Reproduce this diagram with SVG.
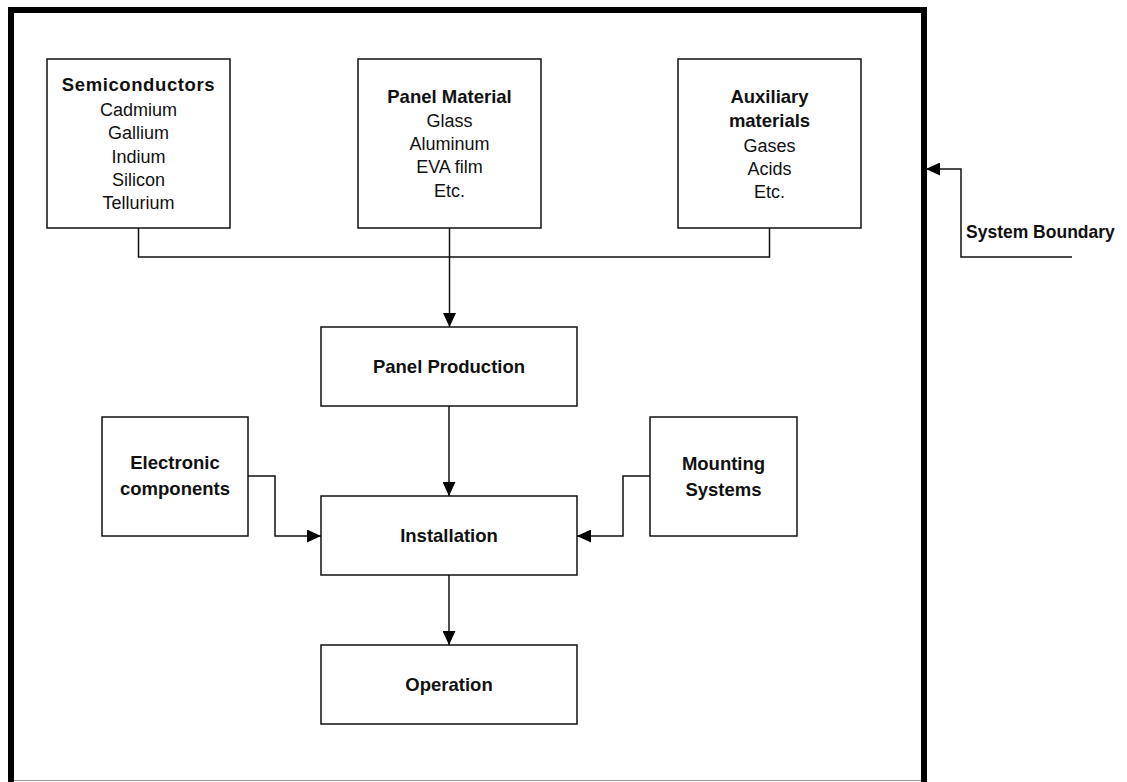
<svg xmlns="http://www.w3.org/2000/svg" width="1127" height="782" viewBox="0 0 1127 782">
  <style>
    .box { fill: #ffffff; stroke: #111111; stroke-width: 1.5; }
    .wire { fill: none; stroke: #111111; stroke-width: 1.5; }
    .title { font-family: "Liberation Sans", Arial, sans-serif; font-weight: bold; font-size: 18.5px; fill: #111111; text-anchor: middle; }
    .item { font-family: "Liberation Sans", Arial, sans-serif; font-size: 18px; fill: #111111; text-anchor: middle; }
    .label { font-family: "Liberation Sans", Arial, sans-serif; font-weight: bold; font-size: 17.5px; fill: #111111; }
  </style>
  <defs>
    <marker id="arrow" viewBox="0 0 14 13" refX="14" refY="6.5" markerWidth="14" markerHeight="13" markerUnits="userSpaceOnUse" orient="auto">
      <path d="M0,0 L14,6.5 L0,13 Z" fill="#000000"/>
    </marker>
  </defs>

  <rect width="1127" height="782" fill="#ffffff"/>

  <!-- system boundary frame -->
  <g id="boundary">
    <rect x="11" y="10" width="913" height="790" fill="none" stroke="#000000" stroke-width="6"/>
    <line x1="14" y1="780.5" x2="921" y2="780.5" stroke="#999999" stroke-width="1"/>
  </g>

  <g id="semiconductors">
    <rect class="box" x="47" y="59" width="183" height="169"/>
    <text class="title" x="138.5" y="91" letter-spacing="0.6">Semiconductors</text>
    <text class="item" x="138.5" y="116">Cadmium</text>
    <text class="item" x="138.5" y="139.3">Gallium</text>
    <text class="item" x="138.5" y="162.6">Indium</text>
    <text class="item" x="138.5" y="185.9">Silicon</text>
    <text class="item" x="138.5" y="209.2">Tellurium</text>
  </g>

  <g id="panel-material">
    <rect class="box" x="358" y="59" width="183" height="169"/>
    <text class="title" x="449.5" y="103.3">Panel Material</text>
    <text class="item" x="449.5" y="126.7">Glass</text>
    <text class="item" x="449.5" y="150">Aluminum</text>
    <text class="item" x="449.5" y="173.3">EVA film</text>
    <text class="item" x="449.5" y="196.7">Etc.</text>
  </g>

  <g id="auxiliary-materials">
    <rect class="box" x="678" y="59" width="183" height="169"/>
    <text class="title" x="769.5" y="103.3">Auxiliary</text>
    <text class="title" x="769.5" y="127.3">materials</text>
    <text class="item" x="769.5" y="151.5">Gases</text>
    <text class="item" x="769.5" y="175">Acids</text>
    <text class="item" x="769.5" y="198.3">Etc.</text>
  </g>

  <g id="panel-production">
    <rect class="box" x="321" y="327" width="256" height="79"/>
    <text class="title" x="449" y="373">Panel Production</text>
  </g>

  <g id="electronic-components">
    <rect class="box" x="102" y="417" width="146" height="119"/>
    <text class="title" x="175" y="469.3">Electronic</text>
    <text class="title" x="175" y="495">components</text>
  </g>

  <g id="installation">
    <rect class="box" x="321" y="496" width="256" height="79"/>
    <text class="title" x="449" y="542">Installation</text>
  </g>

  <g id="mounting-systems">
    <rect class="box" x="650" y="417" width="147" height="119"/>
    <text class="title" x="723.5" y="470">Mounting</text>
    <text class="title" x="723.5" y="496">Systems</text>
  </g>

  <g id="operation">
    <rect class="box" x="321" y="645" width="256" height="79"/>
    <text class="title" x="449" y="691">Operation</text>
  </g>

  <g id="boundary-label">
    <text class="label" x="966" y="238">System Boundary</text>
  </g>

  <!-- connectors -->
  <g id="connectors">
    <polyline class="wire" points="138.5,228 138.5,257 769.5,257 769.5,228"/>
    <line class="wire" x1="449.5" y1="228" x2="449.5" y2="327" marker-end="url(#arrow)"/>
    <line class="wire" x1="449" y1="406" x2="449" y2="496" marker-end="url(#arrow)"/>
    <line class="wire" x1="449" y1="575" x2="449" y2="645" marker-end="url(#arrow)"/>
    <polyline class="wire" points="248,476 275,476 275,536 321,536" marker-end="url(#arrow)"/>
    <polyline class="wire" points="650,476 623,476 623,536 577,536" marker-end="url(#arrow)"/>
    <polyline class="wire" points="1072,257 961,257 961,169 926,169" marker-end="url(#arrow)"/>
  </g>
</svg>
